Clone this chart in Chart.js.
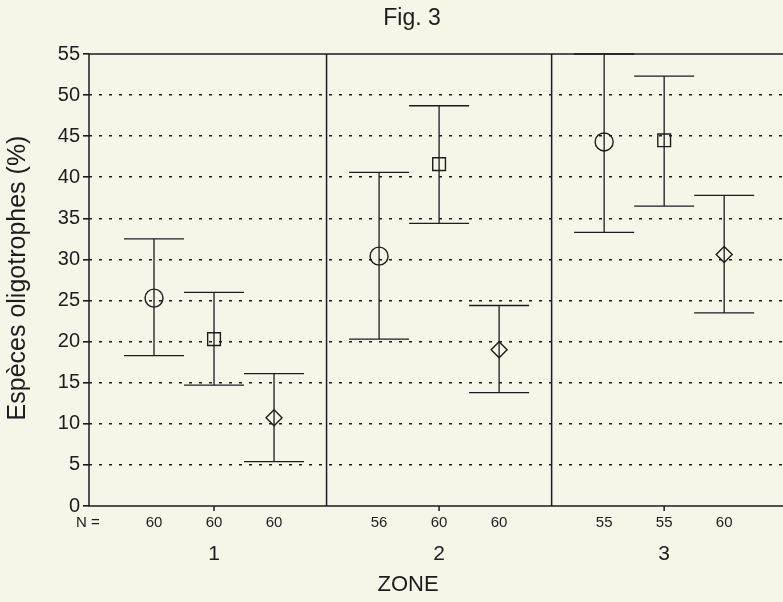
<!DOCTYPE html>
<html>
<head>
<meta charset="utf-8">
<script src="https://cdn.jsdelivr.net/npm/chart.js@4.4.1/dist/chart.umd.min.js"></script>
<style>
  html, body { margin: 0; padding: 0; background: #f5f6e8; overflow: hidden; }
  #wrap { width: 783px; height: 602px; }
</style>
</head>
<body>
<div id="wrap"><canvas id="chart" width="783" height="602"></canvas></div>
<script>
// zones and the three groups (circle, square, diamond)
const zones = ["1", "2", "3"];
const yTicks = [0, 5, 10, 15, 20, 25, 30, 35, 40, 45, 50, 55];

const circleMean = [25.3, 30.4, 44.3];
const circleLow = [18.3, 20.3, 33.3];
const circleHigh = [32.5, 40.6, 55.0];
const circleN = [60, 56, 55];

const squareMean = [20.3, 41.6, 44.5];
const squareLow = [14.7, 34.4, 36.5];
const squareHigh = [26.0, 48.7, 52.3];
const squareN = [60, 60, 55];

const diamondMean = [10.75, 19.0, 30.6];
const diamondLow = [5.4, 13.8, 23.5];
const diamondHigh = [16.1, 24.4, 37.8];
const diamondN = [60, 60, 60];

const ink = "#1c1c1c";
const bg = "#f5f6e8";
const font = "'Liberation Sans', Arial, sans-serif";
const zoneStep = 3.75; // 3 groups + gap
const xOf = (z, s) => 1 + z * zoneStep + s;

const groups = [
  { style: "circle", r: 9, mean: circleMean, low: circleLow, high: circleHigh, n: circleN },
  { style: "rect", r: 9, mean: squareMean, low: squareLow, high: squareHigh, n: squareN },
  { style: "rectRot", r: 8, mean: diamondMean, low: diamondLow, high: diamondHigh, n: diamondN },
];

const datasets = groups.map((g, s) => ({
  data: zones.map((z, i) => ({ x: xOf(i, s), y: g.mean[i], lo: g.low[i], hi: g.high[i], n: g.n[i] })),
  pointStyle: g.style,
  pointRadius: g.r,
  pointHoverRadius: g.r,
  borderColor: ink,
  borderWidth: 1.4,
  backgroundColor: "rgba(0,0,0,0)",
}));

const extras = {
  id: "extras",
  beforeDraw(chart) {
    const ctx = chart.ctx;
    ctx.save();
    ctx.fillStyle = bg;
    ctx.fillRect(0, 0, chart.width, chart.height);
    ctx.restore();
  },
  beforeDatasetsDraw(chart) {
    const ctx = chart.ctx;
    const x = chart.scales.x, y = chart.scales.y;
    const a = chart.chartArea;
    ctx.save();
    ctx.strokeStyle = ink;
    ctx.lineWidth = 1.5;
    // box: top, left, bottom
    ctx.beginPath();
    ctx.moveTo(a.left, y.getPixelForValue(55));
    ctx.lineTo(a.right, y.getPixelForValue(55));
    ctx.moveTo(a.left, y.getPixelForValue(55));
    ctx.lineTo(a.left, y.getPixelForValue(0));
    ctx.lineTo(a.right, y.getPixelForValue(0));
    ctx.stroke();
    // zone separators
    ctx.beginPath();
    for (let z = 0; z < zones.length - 1; z++) {
      const sx = x.getPixelForValue((xOf(z, 2) + xOf(z + 1, 0)) / 2);
      ctx.moveTo(sx, y.getPixelForValue(55));
      ctx.lineTo(sx, y.getPixelForValue(0));
    }
    ctx.stroke();
    // zone tick marks below axis
    ctx.beginPath();
    zones.forEach((z, i) => {
      const tx = x.getPixelForValue(xOf(i, 1));
      ctx.moveTo(tx, y.getPixelForValue(0));
      ctx.lineTo(tx, y.getPixelForValue(0) + 5);
    });
    ctx.stroke();
    // error bars
    ctx.lineWidth = 1.3;
    datasets.forEach(ds => ds.data.forEach(p => {
      const px = x.getPixelForValue(p.x);
      const c0 = x.getPixelForValue(p.x - 0.5), c1 = x.getPixelForValue(p.x + 0.5);
      const yl = y.getPixelForValue(p.lo), yh = y.getPixelForValue(p.hi);
      ctx.beginPath();
      ctx.moveTo(px, yl); ctx.lineTo(px, yh);
      ctx.moveTo(c0, yl); ctx.lineTo(c1, yl);
      ctx.moveTo(c0, yh); ctx.lineTo(c1, yh);
      ctx.stroke();
    }));
    ctx.restore();
  },
  afterDraw(chart) {
    const ctx = chart.ctx;
    const x = chart.scales.x;
    ctx.save();
    ctx.fillStyle = ink;
    ctx.textAlign = "center";
    ctx.textBaseline = "middle";
    // N counts
    ctx.font = "15px " + font;
    ctx.fillText("N =", 88, 523);
    datasets.forEach(ds => ds.data.forEach(p => {
      ctx.fillText(String(p.n), x.getPixelForValue(p.x), 523);
    }));
    // zone labels
    ctx.font = "21px " + font;
    zones.forEach((z, i) => ctx.fillText(z, x.getPixelForValue(xOf(i, 1)), 554));
    ctx.font = "22px " + font;
    ctx.fillText("ZONE", 408, 585);
    // title
    ctx.font = "23px " + font;
    ctx.fillText("Fig. 3", 412, 19);
    // y title
    ctx.translate(18, 278);
    ctx.rotate(-Math.PI / 2);
    ctx.font = "25px " + font;
    ctx.fillText("Espèces oligotrophes (%)", 0, 0);
    ctx.restore();
  },
};

new Chart(document.getElementById("chart"), {
  type: "scatter",
  data: { datasets },
  options: {
    responsive: false,
    animation: false,
    layout: { autoPadding: false, padding: { top: 54, bottom: 96, left: 0, right: 0 } },
    plugins: { legend: { display: false }, tooltip: { enabled: false } },
    scales: {
      x: {
        type: "linear",
        display: false,
        min: -0.083,
        max: 11.48,
      },
      y: {
        min: 0,
        max: 55,
        afterFit: (s) => { s.width = 89; },
        afterBuildTicks: (s) => { s.ticks = yTicks.map(v => ({ value: v })); },
        ticks: {
          color: ink,
          padding: 3,
          font: { family: font, size: 20 },
        },
        grid: {
          color: (c) => (c.tick && (c.tick.value === 0 || c.tick.value === 55)) ? "rgba(0,0,0,0)" : ink,
          lineWidth: 1.6,
          drawTicks: true,
          tickLength: 6,
          tickColor: ink,
          tickBorderDash: [],
        },
        border: { display: false, dash: [3, 7] },
      },
    },
  },
  plugins: [extras],
});
</script>
</body>
</html>
